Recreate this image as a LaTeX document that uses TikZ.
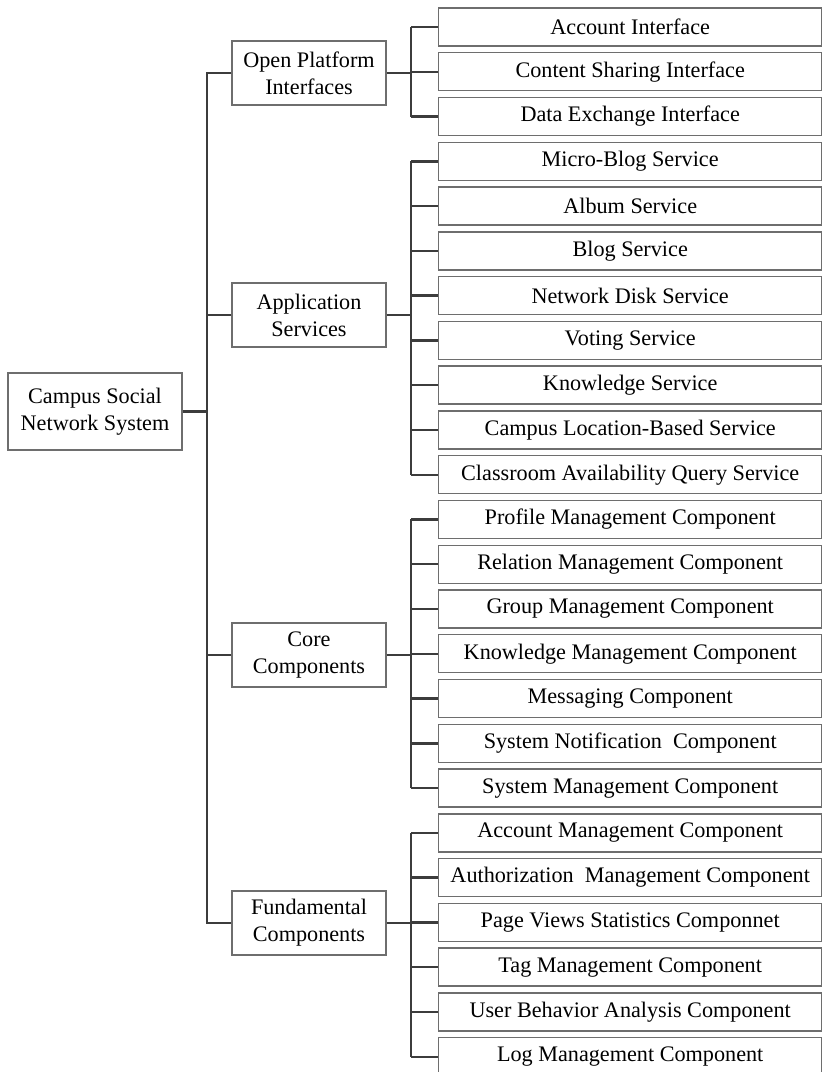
\documentclass[tikz,border=0pt]{standalone}
\usepackage{fontspec}
\setmainfont{Liberation Serif}
\definecolor{conncol}{HTML}{3C3C3C}
\definecolor{boxcol}{HTML}{6E6E6E}
\begin{document}
\begin{tikzpicture}[x=1pt,y=-1pt,
  txt/.style={font=\fontsize{22.2}{27}\selectfont, text=black, align=center, inner sep=0pt},
  leaf/.style={txt, draw=boxcol, line width=1.4pt, rectangle, minimum width=383pt, minimum height=38pt, anchor=west},
  mid/.style={txt, draw=boxcol, line width=1.4pt, rectangle, minimum width=154pt, minimum height=64pt},
  rootbox/.style={txt, draw=boxcol, line width=1.4pt, rectangle, minimum width=174pt, minimum height=77pt},
  conn/.style={draw=conncol, line width=2.4pt}]
\useasboundingbox (0,0) rectangle (822,1072);

\coordinate (spine) at (207,0);
\coordinate (bus) at (411,0);

\node[rootbox] (root) at (95,411.5) {Campus Social\\Network System};

\node[mid] (opi) at (309,73) {Open Platform\\Interfaces};
\node[mid] (aps) at (309,315) {Application\\Services};
\node[mid] (coc) at (309,655) {Core\\Components};
\node[mid] (fuc) at (309,923) {Fundamental\\Components};

\foreach \i/\t in {0/Account Interface,
  1/Content Sharing Interface,
  2/Data Exchange Interface,
  3/Micro-Blog Service,
  4/Album Service,
  5/Blog Service,
  6/Network Disk Service,
  7/Voting Service,
  8/Knowledge Service,
  9/Campus Location-Based Service,
  10/Classroom Availability Query Service,
  11/Profile Management Component,
  12/Relation Management Component,
  13/Group Management Component,
  14/Knowledge Management Component,
  15/Messaging Component,
  16/System Notification~ Component,
  17/System Management Component,
  18/Account Management Component,
  19/Authorization~ Management Component,
  20/Page Views Statistics Componnet,
  21/Tag Management Component,
  22/User Behavior Analysis Component,
  23/Log Management Component}
  \node[leaf] (l\i) at (438,{27+44.77*\i}) {\t};

% main spine
\draw[conn] (root.east) -- (root.east -| spine);
\draw[conn] (opi.west) -- (opi.west -| spine) -- (fuc.west -| spine) -- (fuc.west);
\draw[conn] (aps.west) -- (aps.west -| spine);
\draw[conn] (coc.west) -- (coc.west -| spine);

% group buses
\draw[conn] (opi.east) -- (opi.east -| bus);
\draw[conn] (l0.west -| bus) -- (l2.west -| bus);
\draw[conn] (aps.east) -- (aps.east -| bus);
\draw[conn] (l3.west -| bus) -- (l10.west -| bus);
\draw[conn] (coc.east) -- (coc.east -| bus);
\draw[conn] (l11.west -| bus) -- (l17.west -| bus);
\draw[conn] (fuc.east) -- (fuc.east -| bus);
\draw[conn] (l18.west -| bus) -- (l23.west -| bus);

\foreach \i in {0,...,23}
  \draw[conn] (l\i.west -| bus) -- (l\i.west);
\end{tikzpicture}
\end{document}
